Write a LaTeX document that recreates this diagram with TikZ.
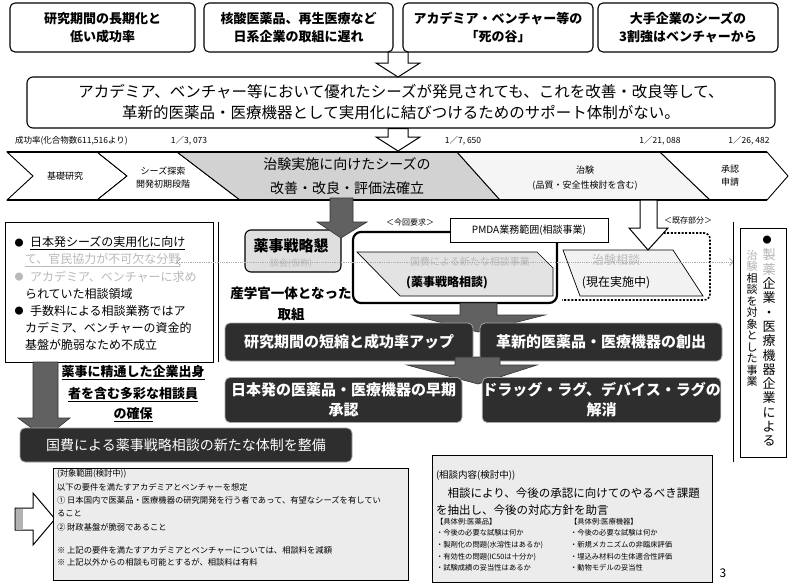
\documentclass[tikz,border=0pt]{standalone}
\usepackage{fontspec}
\setmainfont{Noto Sans CJK JP}
\usetikzlibrary{arrows.meta,calc}
\newcommand{\jfs}[2]{\fontsize{#1}{#2}\selectfont}
\begin{document}
\begin{tikzpicture}[x=1pt,y=-1pt,
  every node/.style={inner sep=0pt, outer sep=0pt},
  topbox/.style={draw, line width=1.1pt, rounded corners=5pt, align=center, font=\jfs{13}{18}\bfseries},
  mainbox/.style={draw, line width=1.1pt, rounded corners=6pt, align=center, font=\jfs{15.5}{21}},
  darkbox/.style={fill=black!82, draw=gray!70, line width=0.8pt, rounded corners=5pt, text=white, align=center, font=\jfs{15}{20}\bfseries},
  lbl/.style={font=\jfs{8.5}{10}},
  chev/.style={draw, line width=0.9pt},
  hollow/.style={draw, line width=1pt, fill=white},
  darkarrow/.style={fill=black!62, draw=black!80, line width=0.6pt},
  ltxt/.style={anchor=west, font=\jfs{12}{14}},
  bltxt/.style={anchor=west, font=\jfs{8.3}{10}},
  brtxt/.style={anchor=west, font=\jfs{7.3}{9}},
  faded/.style={text=gray!55},
]
\useasboundingbox (0,0) rectangle (789,584);
\fill[white] (0,0) rectangle (789,584);

% ---------- top boxes ----------
\node[topbox, minimum width=185pt, minimum height=49pt] (t1) at (102.5,27.5) {研究期間の長期化と\\低い成功率};
\node[topbox, minimum width=189pt, minimum height=49pt] (t2) at (298.5,27.5) {核酸医薬品、再生医療など\\日系企業の取組に遅れ};
\node[topbox, minimum width=190pt, minimum height=49pt] (t3) at (498,27.5) {アカデミア・ベンチャー等の\\「死の谷」};
\node[topbox, minimum width=180pt, minimum height=49pt] (t4) at (688,27.5) {大手企業のシーズの\\3割強はベンチャーから};

% ---------- main box ----------
\node[mainbox, minimum width=748pt, minimum height=51pt] (main) at (401,102.5)
  {アカデミア、ベンチャー等において優れたシーズが発見されても、これを改善・改良等して、\\革新的医薬品・医療機器として実用化に結びつけるためのサポート体制がない。};

\draw[hollow] (388,52) -- (408,52) -- (408,63) -- (420,63) -- (398,77) -- (376,63) -- (388,63) -- cycle;
\draw[hollow] (388,128.5) -- (408,128.5) -- (408,137) -- (420,137) -- (398,151) -- (376,137) -- (388,137) -- cycle;

% ---------- success rate ----------
\node[lbl, anchor=west] (sr) at (15,141) {成功率(化合物数611,516より)};
\node[lbl] (r1) at (189,141) {1／3, 073};
\node[lbl] (r2) at (463,141) {1／7, 650};
\node[lbl] (r3) at (660,141) {1／21, 088};
\node[lbl] (r4) at (749,141) {1／26, 482};

% ---------- process chevrons ----------
\draw[chev, fill=white] (7,152) -- (97,152) -- (127,176) -- (97,200) -- (7,200) -- (33,176) -- cycle;
\draw[chev, fill=white] (97,152) -- (177,152) -- (240,200) -- (97,200) -- (127,176) -- cycle;
\draw[chev, fill=gray!35] (177,152) -- (457,152) -- (500,200) -- (240,200) -- cycle;
\draw[chev, fill=gray!8] (457,152) -- (660,152) -- (710,200) -- (500,200) -- cycle;
\draw[chev, fill=white] (660,152) -- (767,152) -- (788,176) -- (767,200) -- (710,200) -- cycle;
\draw[line width=1.4pt] (7,152) -- (767,152);
\draw[line width=1.4pt] (7,200) -- (767,200);

\node[font=\jfs{9}{12}] (c1) at (65,176) {基礎研究};
\node[font=\jfs{9}{13}, align=center] (c2) at (163,178) {シーズ探索\\開発初期段階};
\node[font=\jfs{14}{24}, align=center] (c3) at (347,176) {治験実施に向けたシーズの\\改善・改良・評価法確立};
\node[font=\jfs{9}{15}, align=center] (c4) at (585,178) {治験\\(品質・安全性検討を含む)};
\node[font=\jfs{9}{13}, align=center] (c5) at (730,176) {承認\\申請};

% ---------- left box ----------
\node[draw, line width=1pt, fill=white, minimum width=208pt, minimum height=140pt] (lb) at (109,292) {};
\draw[line width=0.8pt] (218,222) -- (218,362);
\node[font=\jfs{9}{9}] (b1) at (19,243) {●};
\node[ltxt] (l1) at (30,243) {\underline{日本発シーズの実用化に向け}};
\node[ltxt, faded] (l2) at (25,260) {\underline{て、官民協力が不可欠な分野}};
\node[font=\jfs{9}{9}, faded] (b2) at (19,277) {●};
\node[ltxt, faded] (l3) at (30,277) {アカデミア、ベンチャーに求め};
\node[ltxt] (l4) at (25,294) {られていた相談領域};
\node[font=\jfs{9}{9}] (b3) at (19,311) {●};
\node[ltxt] (l5) at (30,311) {手数料による相談業務ではア};
\node[ltxt] (l6) at (25,328) {カデミア、ベンチャーの資金的};
\node[ltxt] (l7) at (25,345) {基盤が脆弱なため不成立};

% ---------- 薬事戦略懇談会 ----------
\node[draw, line width=1.1pt, rounded corners=6pt, fill=gray!25, minimum width=96pt, minimum height=42pt] (yk) at (293,251) {};
\node[font=\jfs{15}{17}\bfseries] (yk1) at (291,246) {薬事戦略懇};
\node[font=\jfs{9}{11}, faded] (yk2) at (291,264) {談会(仮称)};
\draw[darkarrow] (330,198) -- (353,198) -- (353,222) -- (367,222) -- (341,238) -- (317,222) -- (330,222) -- cycle;
\node[font=\jfs{13.5}{21}\bfseries, align=center] (sg) at (291,303.5) {産学官一体となった\\取組};

% ---------- consultation frame ----------
\draw[fill=gray!22, line width=0.7pt] (357,252) -- (537,252) -- (553,268) -- (553,296) -- (400,296) -- cycle;
\node[font=\jfs{10}{12}, faded] (n1) at (470,262) {国費による新たな相談事業};
\node[font=\jfs{12}{14}\bfseries] (n2) at (447,283) {(薬事戦略相談)};
\draw[fill=gray!10, line width=0.7pt] (563,250) -- (673,250) -- (703,296) -- (580,296) -- cycle;
\node[font=\jfs{12}{14}, faded] (j1) at (616,260) {治験相談};
\node[font=\jfs{12}{14}] (j2) at (616,283) {(現在実施中)};
\draw[line width=2.2pt, rounded corners=8pt] (450,232) -- (353,232) -- (353,303) -- (557,303) -- (557,242);
\draw[line width=1.6pt, dash pattern=on 2pt off 1.6pt, rounded corners=6pt] (660,233) -- (710,233) -- (710,300) -- (562,300);
\node[draw, line width=0.9pt, fill=white, minimum width=158pt, minimum height=24pt, font=\jfs{10}{12}] (pmda) at (529,230) {PMDA業務範囲(相談事業)};
\node[font=\jfs{8}{10}] (kon) at (410,222) {＜今回要求＞};
\node[font=\jfs{8}{10}] (kiz) at (688,220) {＜既存部分＞};
\draw[hollow] (640,200) -- (657,200) -- (657,228) -- (668,228) -- (648,250) -- (629,228) -- (640,228) -- cycle;

% dotted double arrow
\coordinate (dl) at (176,262);
\coordinate (dr) at (734,262);
\draw[gray!65, densely dotted, line width=0.8pt, {Straight Barb[length=4pt,width=7pt]}-{Straight Barb[length=4pt,width=7pt]}] (dl) -- (dr);

% ---------- outcome boxes ----------
\draw[darkarrow] (460,303) -- (497,303) -- (497,315) -- (545,315) -- (478,332) -- (412,315) -- (460,315) -- cycle;
\node[darkbox, minimum width=248pt, minimum height=38pt] (d1) at (349,342) {研究期間の短縮と成功率アップ};
\node[darkbox, minimum width=242pt, minimum height=38pt] (d2) at (601,342) {革新的医薬品・医療機器の創出};
\draw[darkarrow] (455,357) -- (500,357) -- (500,365) -- (537,365) -- (478,384) -- (407,365) -- (455,365) -- cycle;
\node[darkbox, minimum width=237pt, minimum height=45pt] (d3) at (343.5,400) {日本発の医薬品・医療機器の早期\\承認};
\node[darkbox, minimum width=233pt, minimum height=45pt] (d4) at (601.5,400) {ドラッグ・ラグ、デバイス・ラグの\\解消};

% ---------- left arrow and new system ----------
\draw[darkarrow] (33,362) -- (58,362) -- (58,418) -- (70,418) -- (45,438) -- (18,418) -- (33,418) -- cycle;
\node[font=\jfs{13}{15}\bfseries] (u1) at (133,373) {\underline{薬事に精通した企業出身}};
\node[font=\jfs{13}{15}\bfseries] (u2) at (133,395) {\underline{者を含む多彩な相談員}};
\node[font=\jfs{13}{15}\bfseries] (u3) at (133,415) {\underline{の確保}};
\node[darkbox, font=\jfs{14}{18}, minimum width=332pt, minimum height=34pt] (d5) at (186,445) {国費による薬事戦略相談の新たな体制を整備};

% ---------- right vertical box ----------
\draw[line width=1pt] (733,222) -- (733,462);
\node[draw, line width=1pt, minimum width=46pt, minimum height=229pt] (rb) at (763,342.5) {};
\node[font=\jfs{9}{9}] (rbb) at (767,240) {●};
\node[font=\jfs{13}{14.3}, align=center, anchor=north] (rc1) at (769,249)
  {{\color{gray!60}製}\\{\color{gray!60}薬}\\企\\業\\・\\医\\療\\機\\器\\企\\業\\に\\よ\\る};
\node[font=\jfs{11}{11.5}, align=center, anchor=north] (rc2) at (752,250)
  {{\color{gray!60}治}\\{\color{gray!60}験}\\相\\談\\を\\対\\象\\と\\し\\た\\事\\業};

% ---------- bottom left box ----------
\draw[hollow] (15,508) -- (33,508) -- (33,493) -- (55,519) -- (33,545) -- (33,530) -- (15,530) -- cycle;
\fill[gray!60] (15.5,508.5) rectangle (23,529.5);
\node[draw, line width=0.9pt, fill=gray!15, minimum width=355pt, minimum height=112pt] (bl) at (230.5,524) {};
\node[bltxt] (bl1) at (57,474) {(対象範囲(検討中))};
\node[bltxt] (bl2) at (57,487) {以下の要件を満たすアカデミアとベンチャーを想定};
\node[bltxt] (bl3) at (57,500) {① 日本国内で医薬品・医療機器の研究開発を行う者であって、有望なシーズを有してい};
\node[bltxt] (bl4) at (57,513) {ること};
\node[bltxt] (bl5) at (57,527) {② 財政基盤が脆弱であること};
\node[bltxt] (bl6) at (57,550) {※ 上記の要件を満たすアカデミアとベンチャーについては、相談料を減額};
\node[bltxt] (bl7) at (57,562) {※ 上記以外からの相談も可能とするが、相談料は有料};

% ---------- bottom right box ----------
\node[draw, line width=0.9pt, fill=gray!15, minimum width=280pt, minimum height=127pt] (br) at (572,518.5) {};
\node[anchor=west, font=\jfs{9.5}{11}] (br1) at (436,475) {(相談内容(検討中))};
\node[anchor=west, font=\jfs{11.5}{13}] (br2) at (436,493) {　相談により、今後の承認に向けてのやるべき課題};
\node[anchor=west, font=\jfs{11.5}{13}] (br3) at (436,510) {を抽出し、今後の対応方針を助言};
\node[brtxt] (br4) at (436,522) {【具体例:医薬品】};
\node[brtxt] (br5) at (436,533) {・今後の必要な試験は何か};
\node[brtxt] (br6) at (436,545) {・製剤化の問題(水溶性はあるか)};
\node[brtxt] (br7) at (436,557) {・有効性の問題(IC50は十分か)};
\node[brtxt] (br8) at (436,568) {・試験成績の妥当性はあるか};
\node[brtxt] (br9) at (570,522) {【具体例:医療機器】};
\node[brtxt] (br10) at (570,533) {・今後の必要な試験は何か};
\node[brtxt] (br11) at (570,545) {・新規メカニズムの非臨床評価};
\node[brtxt] (br12) at (570,557) {・埋込み材料の生体適合性評価};
\node[brtxt] (br13) at (570,568) {・動物モデルの妥当性};

\node[font=\jfs{12}{14}] (pg) at (723,573) {3};
\end{tikzpicture}
\end{document}
